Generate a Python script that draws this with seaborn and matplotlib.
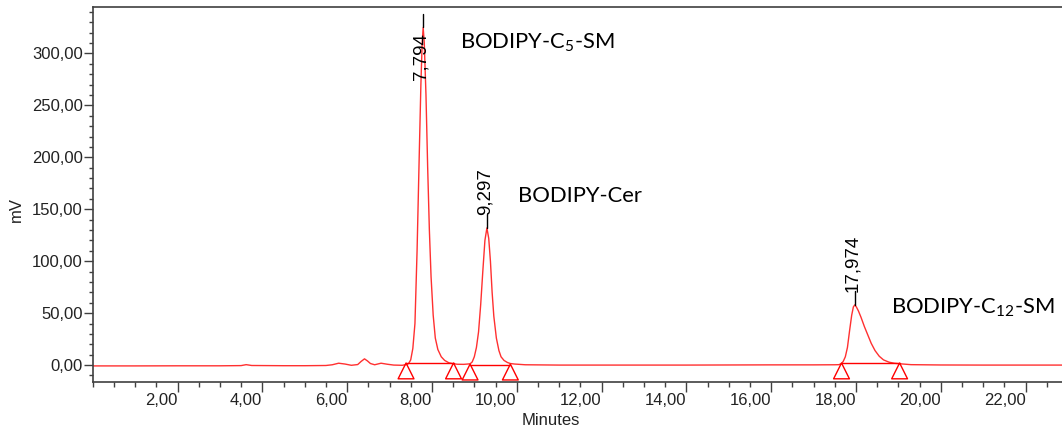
import numpy as np
import pandas as pd
import matplotlib
matplotlib.use("Agg")
import matplotlib.pyplot as plt
from matplotlib.ticker import MultipleLocator, FixedLocator, FuncFormatter
import seaborn as sns

# chromatogram trace (minutes, mV)
t_min = [0.00, 1.00, 2.00, 3.00, 3.50, 3.62, 3.75, 4.50, 5.00, 5.50, 5.65, 5.80,
         5.95, 6.10, 6.25, 6.33, 6.41, 6.48, 6.55, 6.65, 6.80, 6.95, 7.10, 7.30,
         7.40, 7.45, 7.50, 7.55, 7.60, 7.65, 7.70, 7.74, 7.77, 7.794, 7.82, 7.86,
         7.90, 7.94, 7.98, 8.03, 8.08, 8.14, 8.22, 8.30, 8.40, 8.50, 8.60, 8.75,
         8.90, 8.95, 9.00, 9.05, 9.10, 9.15, 9.20, 9.25, 9.297, 9.34, 9.38, 9.42,
         9.46, 9.52, 9.58, 9.63, 9.70, 9.78, 9.85, 9.95, 10.20, 11.00, 12.00, 13.00,
         14.00, 15.00, 16.00, 17.00, 17.50, 17.60, 17.66, 17.70, 17.75, 17.80, 17.85, 17.90,
         17.94, 17.974, 18.01, 18.06, 18.12, 18.20, 18.28, 18.36, 18.45, 18.55, 18.65, 18.78,
         18.90, 19.05, 19.30, 20.00, 21.00, 22.00, 22.86]
signal_mv = [-0.8, -0.8, -0.7, -0.7, -0.5, 0.4, -0.4, -0.6, -0.6, -0.4, 0.3, 1.8,
             1.0, -0.2, 0.5, 3.5, 6.0, 4.0, 1.5, 0.3, 1.8, 0.8, 0.0, -0.2,
             0.5, 1.5, 5, 16, 40, 110, 200, 270, 310, 325, 310, 260,
             190, 130, 85, 48, 26, 15, 8, 4.5, 2.2, 1.3, 0.8, 0.7,
             1.2, 3, 8, 17, 32, 58, 90, 120, 132, 122, 100, 70,
             47, 26, 14, 8, 4.5, 2.5, 1.5, 1.0, 0.3, 0.0, 0.0, 0.0,
             0.0, 0.1, 0.2, 0.2, 0.3, 0.4, 1.5, 3.5, 8, 17, 33, 48,
             56, 58, 56, 52, 46, 37, 29, 21, 14, 8.5, 5, 2.8,
             1.8, 1.2, 0.4, 0.1, 0.0, 0.0, 0.0]

# integrated peaks
peak_rt = [7.794, 9.297, 17.974]
peak_height = [325, 132, 58]
peak_start = [7.39, 8.90, 17.66]
peak_end = [8.51, 9.85, 19.03]
base_level = [1.6, 0.5, 1.6]
peak_names = ["BODIPY-C$_5$-SM", "BODIPY-Cer", "BODIPY-C$_{12}$-SM"]

sns.set_style("white")
plt.rcParams["font.family"] = ["Liberation Sans", "DejaVu Sans"]
plt.rcParams["mathtext.fontset"] = "custom"
plt.rcParams["mathtext.rm"] = "Lato"
plt.rcParams["mathtext.default"] = "regular"

fig = plt.figure(figsize=(10.62, 4.29), dpi=100)
ax = fig.add_axes([92.7 / 1062, 1 - 381.7 / 429, 1 - 92.7 / 1062, 375 / 429])

trace = pd.DataFrame({"Minutes": t_min, "mV": signal_mv})
sns.lineplot(data=trace, x="Minutes", y="mV", color="#ff3030", lw=1.0, ax=ax)

# baselines + start/end triangles
for s, e, b in zip(peak_start, peak_end, base_level):
    ax.plot([s, e], [b, b], color="#ff0000", lw=1.0)
tri = pd.DataFrame({"x": peak_start + peak_end,
                    "y": [b - 7.2 for b in base_level + base_level]})
sns.scatterplot(data=tri, x="x", y="y", marker="^", s=130, facecolor="none",
                edgecolor="#ff0000", linewidth=1.0, ax=ax, zorder=4)

# apex ticks and retention time labels
label_bottom = [274, None, None]
for rt, h, lb in zip(peak_rt, peak_height, label_bottom):
    ax.plot([rt, rt], [h, h + 13], color="black", lw=1.0)
    y = lb if lb is not None else h + 12
    ax.text(rt - 0.05, y, f"{rt:.3f}".replace(".", ","), rotation=90,
            ha="center", va="bottom", fontsize=13.5, color="black")

# compound names
name_pos = [(8.67, 310), (10.04, 163), (18.82, 55)]
for (x, y), name in zip(name_pos, peak_names):
    ax.text(x, y, name, fontsize=15.8, family="Lato", va="center", ha="left",
            color="black")

ax.set_xlim(0, 22.86)
ax.set_ylim(-16, 345)
comma = FuncFormatter(lambda v, p: f"{v:.2f}".replace(".", ","))
ax.xaxis.set_major_locator(FixedLocator(np.arange(2, 23, 2)))
ax.xaxis.set_minor_locator(MultipleLocator(0.5))
ax.yaxis.set_major_locator(MultipleLocator(50))
ax.yaxis.set_minor_locator(MultipleLocator(10))
ax.xaxis.set_major_formatter(comma)
ax.yaxis.set_major_formatter(comma)

spine_col = "#404040"
for side in ["left", "bottom", "top"]:
    ax.spines[side].set_color(spine_col)
    ax.spines[side].set_linewidth(1.2)
ax.spines["right"].set_visible(False)
ax.tick_params(axis="both", which="both", direction="out", color=spine_col,
               labelsize=12, labelcolor="#222222")
ax.tick_params(axis="x", which="major", length=7, width=1, pad=1)
ax.tick_params(axis="x", which="minor", length=3.5, width=1)
ax.tick_params(axis="y", which="major", length=6.5, width=1, pad=0.5)
ax.tick_params(axis="y", which="minor", length=3.2, width=1)
ax.tick_params(bottom=True, left=True, which="both")
plt.setp(ax.get_xticklabels(), ha="right")

ax.set_xlabel("Minutes", fontsize=12, color="#222222")
ax.set_ylabel("mV", fontsize=12, color="#222222")
ax.xaxis.set_label_coords(0.473, -0.083)
ax.yaxis.set_label_coords(-0.071, 0.458)

fig.savefig("out.png", dpi=100)
